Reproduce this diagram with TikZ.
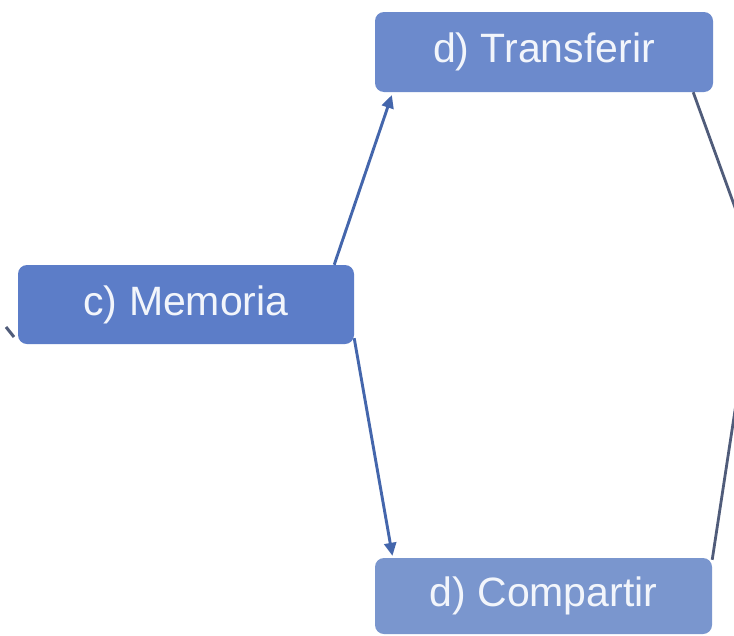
\documentclass[tikz,border=0pt]{standalone}
\usepackage{fontspec}
\setmainfont{Liberation Sans}
\usetikzlibrary{arrows.meta}

\definecolor{boxA}{RGB}{92,125,200}
\definecolor{boxB}{RGB}{108,138,204}
\definecolor{boxC}{RGB}{122,150,206}
\definecolor{linkblue}{RGB}{68,102,172}
\definecolor{linkgrey}{RGB}{80,92,122}
\definecolor{labeltext}{RGB}{242,245,251}

\tikzset{
  stagebox/.style={
    rectangle, rounded corners=9pt, inner sep=0pt,
    text=labeltext, font=\fontsize{41}{49}\selectfont
  },
  link/.style={
    draw=linkblue, line width=2.9pt,
    -{Triangle[length=13pt,width=12pt]}
  },
  outlink/.style={draw=linkgrey, line width=2.8pt}
}

\begin{document}
\begin{tikzpicture}[x=1pt,y=-1pt]
  \fill[white] (0,0) rectangle (734,635);
  \useasboundingbox (0,0) rectangle (734,635);
  \clip (0,0) rectangle (734,635);

  % stages
  \node[stagebox, fill=boxA, minimum width=336pt, minimum height=79pt]
    (mem) at (186,304.5) {c) Memoria};
  \node[stagebox, fill=boxB, minimum width=338pt, minimum height=80pt]
    (tra) at (544,52) {d) Transferir};
  \node[stagebox, fill=boxC, minimum width=337pt, minimum height=76pt]
    (com) at (543.5,596) {d) Compartir};

  % free ends of links that leave the frame
  \coordinate (outA) at (753,257);
  \coordinate (outB) at (745,345);
  \coordinate (inL) at (6,327);
  \coordinate (inLend) at (14,337);

  % arrows between stages
  \draw[link, shorten >=3pt] ([xshift=-20pt]mem.north east) -- ([xshift=18pt]tra.south west);
  \draw[link, shorten >=2pt] ([yshift=6pt]mem.south east) -- ([xshift=18pt]com.north west);

  \draw[outlink] ([xshift=-20pt]tra.south east) -- (outA);
  \draw[outlink] ([yshift=-2pt]com.north east) -- (outB);

  % incoming link stub on the left
  \draw[outlink, line width=3pt] (inL) -- (inLend);
\end{tikzpicture}
\end{document}
